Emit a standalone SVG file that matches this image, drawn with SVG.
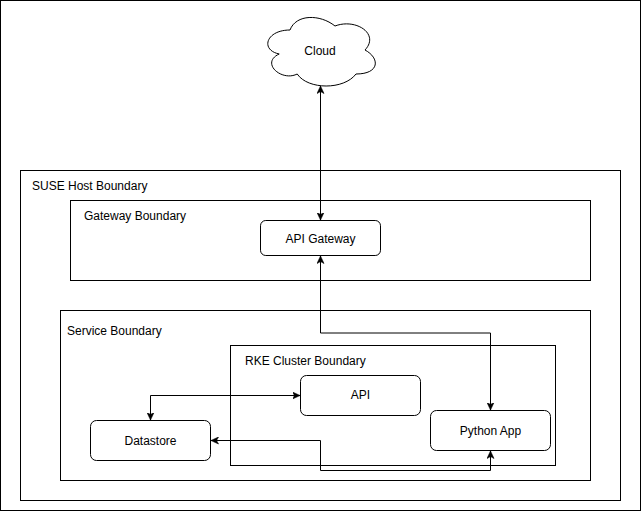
<svg xmlns="http://www.w3.org/2000/svg" width="641" height="511" viewBox="0 0 641 511">
<style>
.b{fill:none;stroke:#000;stroke-width:1}
.n{fill:#fff;stroke:#000;stroke-width:1}
.c{fill:none;stroke:#000;stroke-width:1;marker-start:url(#a);marker-end:url(#a)}
text{font-family:"Liberation Sans",Arial,sans-serif;font-size:12px;fill:#000}
.m{text-anchor:middle}
</style>
<defs>
<marker id="a" viewBox="0 0 8 8" refX="7.5" refY="4" markerWidth="8" markerHeight="8" markerUnits="userSpaceOnUse" orient="auto-start-reverse">
<path d="M0,0.5L7.5,4L0,7.5L2,4Z" fill="#000" stroke="#000" stroke-width="0.6"/>
</marker>
</defs>
<rect width="641" height="511" fill="#fff"/>
<rect id="frame" x="0.5" y="0.5" width="640" height="510" class="b"/>
<g id="suse-host"><rect x="20.5" y="170.5" width="600" height="330" class="b"/><text x="32" y="190">SUSE Host Boundary</text></g>
<g id="gateway-boundary"><rect x="70.5" y="200.5" width="520" height="80" class="b"/><text x="84" y="220">Gateway Boundary</text></g>
<g id="service-boundary"><rect x="60.5" y="310.5" width="530" height="170" class="b"/><text x="67" y="335">Service Boundary</text></g>
<g id="rke-cluster"><rect x="230.5" y="345.5" width="325" height="120" class="b"/><text x="245" y="365">RKE Cluster Boundary</text></g>
<g id="cloud"><path class="n" d="M290,30C266,30 260,50 279.2,54C260,62.8 281.6,82 297.2,74C308,90 344,90 356,74C380,74 380,58 365,50C380,34 356,18 335,26C320,14 296,14 290,30Z"/><text x="320" y="55" class="m">Cloud</text></g>
<g id="api-gateway"><rect x="260.5" y="220.5" width="120" height="35" rx="5.25" class="n"/><text x="320.5" y="243" class="m">API Gateway</text></g>
<g id="api"><rect x="300.5" y="375.5" width="120" height="40" rx="6" class="n"/><text x="360.5" y="399" class="m">API</text></g>
<g id="datastore"><rect x="90.5" y="420.5" width="120" height="40" rx="6" class="n"/><text x="150.5" y="445" class="m">Datastore</text></g>
<g id="python-app"><rect x="430.5" y="410.5" width="120" height="40" rx="6" class="n"/><text x="490.5" y="435" class="m">Python App</text></g>
<g id="connectors">
<path class="c" d="M320.5,86V220"/>
<path class="c" d="M320.5,256V333H490.5V410"/>
<path class="c" d="M150.5,420V395.5H300"/>
<path class="c" d="M211,440.5H320.5V470.5H490.5V451"/>
</g>
</svg>
